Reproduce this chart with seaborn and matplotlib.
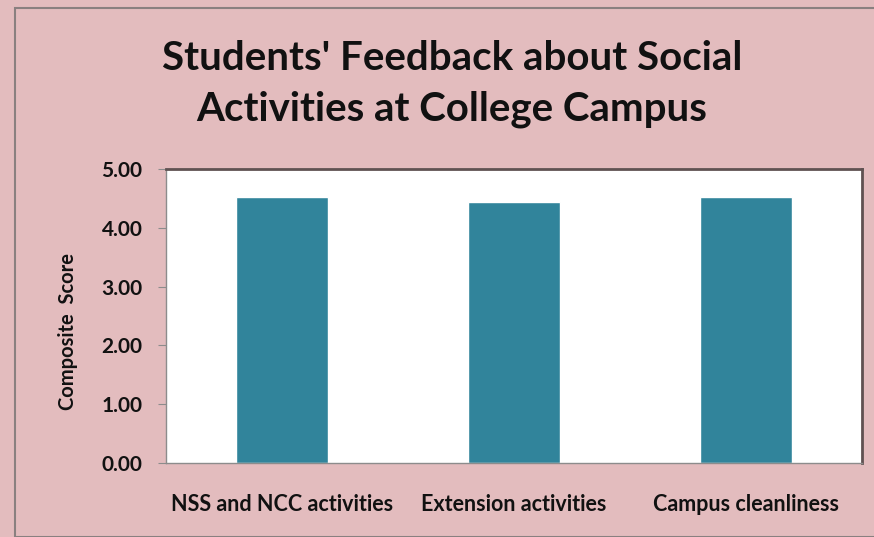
import matplotlib
matplotlib.use('Agg')
import matplotlib.pyplot as plt
import seaborn as sns
import pandas as pd

# Chart data
categories = ['NSS and NCC activities', 'Extension activities', 'Campus cleanliness']
scores = [4.52, 4.44, 4.52]
y_ticks = [0, 1, 2, 3, 4, 5]

df = pd.DataFrame({'activity': categories, 'score': scores})

sns.set_style('white')
plt.rcParams['font.family'] = ['Lato', 'DejaVu Sans']

bg = '#E3BCBE'
bar_color = '#31849B'
ink = '#111111'

fig = plt.figure(figsize=(8.74, 5.37), dpi=100)
fig.patch.set_facecolor(bg)

# outer chart border
fig.patches.append(plt.Rectangle((15 / 874, 0.0), 1.2, 1 - 8 / 537, transform=fig.transFigure,
                                 fill=False, edgecolor='#8a8080', linewidth=1.5))

ax = fig.add_axes([166 / 874, 74 / 537, 696 / 874, 294 / 537])
ax.set_facecolor('white')
sns.barplot(data=df, x='activity', y='score', color=bar_color, width=0.4, saturation=1, ax=ax)

ax.set_ylim(0, 5)
ax.set_xlim(-0.5, 2.5)
ax.set_yticks(y_ticks)
ax.set_yticklabels([f'{v:.2f}' for v in y_ticks], fontsize=15, fontweight='bold', color=ink)
ax.set_xticks([-0.5, 0.5, 1.5, 2.5], minor=False)
ax.set_xticklabels([])
ax.set_xticks([0, 1, 2], minor=True)
ax.set_xticklabels(categories, minor=True, fontsize=15.5, fontweight='bold', color=ink)
ax.tick_params(axis='x', which='minor', length=0, pad=22)
ax.tick_params(axis='x', which='major', length=6, color='#8c8c8c', direction='out')
ax.tick_params(axis='y', length=6, color='#8c8c8c', direction='out', pad=11, left=True)
ax.set_xlabel('')
ax.set_ylabel('Composite  Score', fontsize=14.5, fontweight='bold', color=ink)
ax.yaxis.set_label_coords(-0.127, 0.446)

for side in ['left', 'bottom']:
    ax.spines[side].set_color('#8c8c8c')
    ax.spines[side].set_linewidth(1)
for side in ['top', 'right']:
    ax.spines[side].set_color('#5f5252')
    ax.spines[side].set_linewidth(2)
    ax.spines[side].set_visible(True)

fig.text(452 / 874, 1 - 84 / 537, "Students' Feedback about Social\nActivities at College Campus",
         ha='center', va='center', fontsize=29, fontweight='bold', linespacing=1.45, color=ink)

fig.savefig('out.png', dpi=100, facecolor=bg)
